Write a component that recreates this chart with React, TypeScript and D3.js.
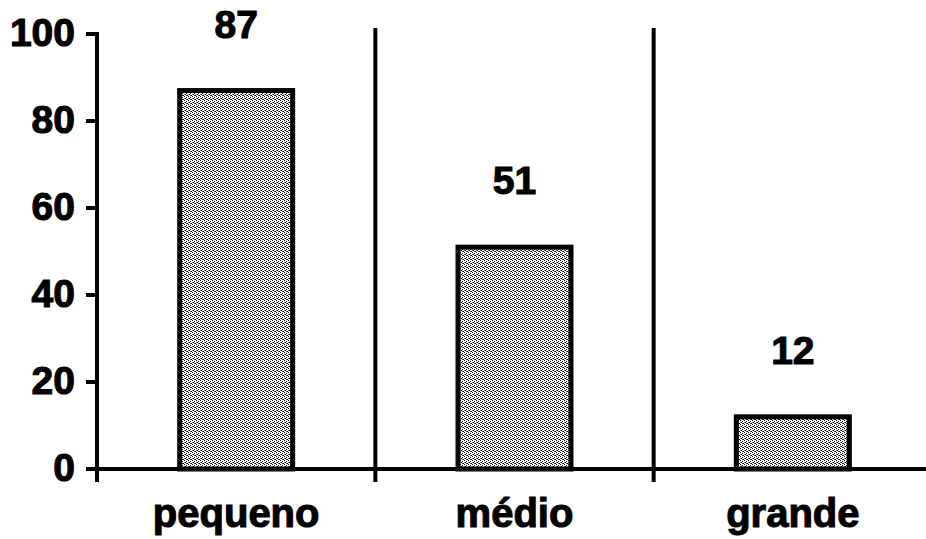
import React from "react";
import * as d3 from "d3";

const categories = ["pequeno", "médio", "grande"];
const values = [87, 51, 12];
const yTicks = [0, 20, 40, 60, 80, 100];

const W = 926;
const H = 539;

export default function App() {
  const y = d3.scaleLinear().domain([0, 100]).range([469, 34]);
  const x = d3.scaleBand<string>().domain(categories).range([97, 932]).padding(0);
  const barW = 113;
  const font = "'Liberation Sans', Arial, Helvetica, sans-serif";
  const y0 = y(0);
  const dividers = categories.slice(1).map((c) => x(c) as number);
  const textProps = {
    fontFamily: font,
    fontWeight: "bold" as const,
    fill: "#000",
    stroke: "#000",
    strokeWidth: 1.1,
  };

  return (
    <svg
      width={W}
      height={H}
      viewBox={`0 0 ${W} ${H}`}
      style={{ position: "absolute", left: 0, top: 0, background: "#fff" }}
    >
      <defs>
        <pattern id="stip" width="4" height="4" patternUnits="userSpaceOnUse">
          <rect width="4" height="4" fill="#fff" />
          <rect x="0" y="0" width="1" height="1" fill="#000" />
          <rect x="2" y="1" width="1" height="1" fill="#000" />
          <rect x="1" y="2" width="1" height="1" fill="#000" />
          <rect x="3" y="3" width="1" height="1" fill="#000" />
          <rect x="2" y="3" width="1" height="1" fill="#444" />
          <rect x="0" y="2" width="1" height="1" fill="#666" />
        </pattern>
      </defs>

      {/* bars */}
      {categories.map((c, i) => {
        const cx = (x(c) as number) + x.bandwidth() / 2;
        return (
          <g key={c}>
            <rect
              x={cx - barW / 2}
              y={y(values[i])}
              width={barW}
              height={y0 - y(values[i])}
              fill="url(#stip)"
              stroke="#000"
              strokeWidth={5}
            />
            <text x={cx} y={y(values[i]) - 53} textAnchor="middle" fontSize={39} {...textProps}>
              {values[i]}
            </text>
            <text x={cx} y={527} textAnchor="middle" fontSize={40} {...textProps}>
              {c}
            </text>
          </g>
        );
      })}

      {/* dividers */}
      {dividers.map((dx, i) => (
        <line key={i} x1={dx} x2={dx} y1={28} y2={482} stroke="#000" strokeWidth={4} />
      ))}

      {/* y axis */}
      <line x1={97} x2={97} y1={y(100) - 2} y2={482} stroke="#000" strokeWidth={4} />
      {yTicks.map((t) => (
        <g key={t}>
          <line x1={86} x2={97} y1={y(t)} y2={y(t)} stroke="#000" strokeWidth={4} />
          <text
            x={75}
            y={y(t) - 2}
            textAnchor="end"
            dominantBaseline="central"
            fontSize={39}
            {...textProps}
          >
            {t}
          </text>
        </g>
      ))}

      {/* x axis */}
      <line x1={86} x2={926} y1={y0} y2={y0} stroke="#000" strokeWidth={4} />
    </svg>
  );
}
